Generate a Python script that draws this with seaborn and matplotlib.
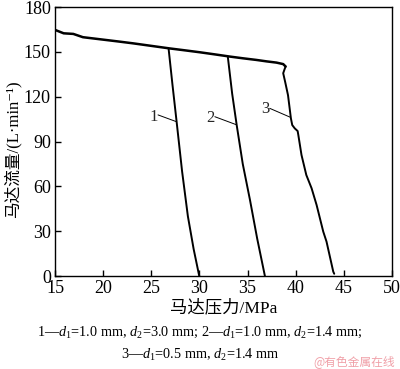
import matplotlib
matplotlib.use("Agg")
import matplotlib.pyplot as plt
import seaborn as sns

sns.set_theme(style="white")
plt.rcParams['font.family'] = ['Liberation Serif', 'Noto Sans CJK SC', 'DejaVu Sans']
plt.rcParams['mathtext.fontset'] = 'custom'
plt.rcParams['mathtext.rm'] = 'Liberation Serif'
plt.rcParams['mathtext.it'] = 'Liberation Serif:italic'

# Data
common_x = [15.0, 15.9, 16.9, 17.9, 19.7, 21.5, 23.1, 25.0, 26.9, 28.5, 30.06, 31.6, 33.2, 34.5, 35.9, 37.0, 38.0, 38.7, 38.95]
common_y = [164.7, 162.4, 162.0, 159.8, 158.4, 157.0, 155.7, 154.0, 152.3, 151.0, 149.7, 148.3, 146.8, 145.7, 144.6, 143.6, 142.8, 141.8, 140.2]
c1_x = [26.8, 27.2, 27.63, 28.2, 28.8, 29.4, 29.98]
c1_y = [152.0, 128.0, 103.3, 70.0, 40.0, 18.0, 0.0]
c2_x = [32.95, 33.4, 33.87, 34.5, 35.25, 36.0, 36.8]
c2_y = [146.6, 122.0, 101.0, 75.0, 50.9, 25.0, 0.0]
c3_x = [38.95, 38.85, 38.7, 38.9, 39.2, 39.5, 39.64, 39.9, 40.2, 40.27, 40.6, 41.1, 41.65, 42.17, 42.86, 43.2, 43.9, 44.0]
c3_y = [140.2, 138.5, 135.7, 130.0, 121.0, 105.5, 101.0, 98.8, 97.0, 94.4, 81.0, 67.6, 58.7, 47.5, 29.7, 23.0, 2.9, 1.5]

labels = ["1", "2", "3"]
label_x = [25.2, 31.1, 36.8]
label_y = [106.5, 106.0, 111.5]
leader_x0 = [25.7, 31.6, 37.3]
leader_y0 = [107.8, 106.6, 112.2]
leader_x1 = [27.6, 33.85, 39.45]
leader_y1 = [103.3, 101.2, 106.2]

xticks = [15, 20, 25, 30, 35, 40, 45, 50]
yticks = [0, 30, 60, 90, 120, 150, 180]

fig = plt.figure(figsize=(4.0, 3.69), dpi=100)
ax = fig.add_axes([0.1375, 0.252, 0.8425, 0.729])

sns.lineplot(x=common_x, y=common_y, sort=False, estimator=None, color='black', lw=1.8, ax=ax)
for xs, ys in [(c1_x, c1_y), (c2_x, c2_y), (c3_x, c3_y)]:
    sns.lineplot(x=xs, y=ys, sort=False, estimator=None, color='black', lw=1.4, ax=ax)

for i in range(3):
    ax.plot([leader_x0[i], leader_x1[i]], [leader_y0[i], leader_y1[i]], color='black', lw=0.7)
    ax.text(label_x[i], label_y[i], labels[i], fontsize=12, ha='center', va='center')

ax.set_xlim(15, 50)
ax.set_ylim(0, 180)
ax.set_xticks(xticks)
ax.set_yticks(yticks)
ax.tick_params(axis='both', direction='in', length=4, width=1, labelsize=13, colors='black', pad=3,
               bottom=True, left=True, top=False, right=False)
for s in ax.spines.values():
    s.set_color('black')
    s.set_linewidth(1.0)

ax.set_xlabel('马达压力/MPa', fontsize=12.5, color='black', labelpad=2)
ax.set_ylabel('马达流量/(L·min⁻¹)', fontsize=12, color='black')
ax.yaxis.set_label_coords(-0.100, 0.47)

fig.text(0.5, 0.100, r'1—$d_1$=1.0 mm, $d_2$=3.0 mm; 2—$d_1$=1.0 mm, $d_2$=1.4 mm;',
         ha='center', va='center', fontsize=10.3, color='black')
fig.text(0.5, 0.038, r'3—$d_1$=0.5 mm, $d_2$=1.4 mm',
         ha='center', va='center', fontsize=10.3, color='black')
fig.text(0.988, 0.02, '@有色金属在线', ha='right', va='center', fontsize=8.5,
         color='#f0a0a8', family=['Noto Sans CJK SC'])

fig.savefig('out.png', dpi=100)
